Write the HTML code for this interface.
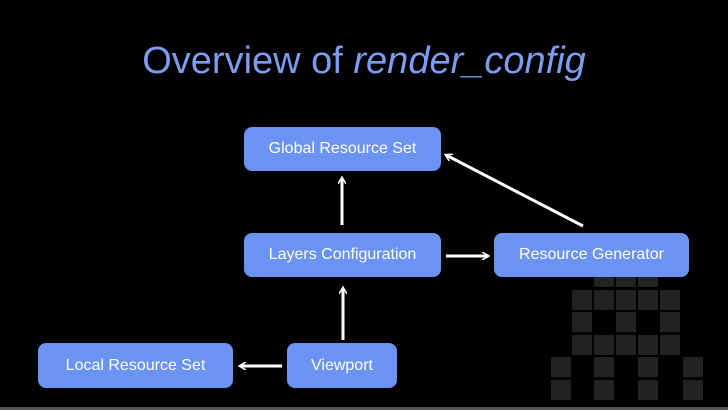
<!DOCTYPE html>
<html><head><style>
body{margin:0;width:728px;height:410px;background:#000;overflow:hidden;position:relative;font-family:"Liberation Sans",sans-serif}
.t{position:absolute;left:0;width:728px;top:40px;text-align:center;color:#7b9cf0;font-size:38px}
.b{position:absolute;background:#6a93f3;border-radius:8px;color:#fff;font-size:16px;display:flex;align-items:center;justify-content:center}
.s{position:absolute;width:20px;height:20px;background:#222}
</style></head><body>
<div class="t">Overview of <i>render_config</i></div>
<div id="sq"></div>
<script>
var cells=[[273,[594,616,638]],[290,[572,594,616,638,660]],[312,[572,616,660]],[335,[572,594,616,638,660]],[357,[551,594,638,683]],[380,[551,594,638,683]]];
var h='';cells.forEach(function(r){r[1].forEach(function(x){h+='<div class="s" style="left:'+x+'px;top:'+r[0]+'px;height:'+(r[0]==273?14:20)+'px"></div>'})});
document.getElementById('sq').innerHTML=h;
</script>
<div style="position:absolute;left:0;top:407px;width:728px;height:3px;background:#555"></div>
<div class="b" style="left:244px;top:127px;width:197px;height:44px">Global Resource Set</div>
<div class="b" style="left:244px;top:233px;width:197px;height:44px">Layers Configuration</div>
<div class="b" style="left:494px;top:233px;width:195px;height:44px">Resource Generator</div>
<div class="b" style="left:287px;top:343px;width:110px;height:45px">Viewport</div>
<div class="b" style="left:38px;top:343px;width:195px;height:45px">Local Resource Set</div>
<svg width="728" height="410" style="position:absolute;left:0;top:0">
<defs><marker id="a" markerWidth="8" markerHeight="8" refX="6" refY="4" orient="auto" markerUnits="userSpaceOnUse"><path d="M0,0 L7,4 L0,8" fill="none" stroke="#fff" stroke-width="1.5"/></marker></defs>
<g stroke="#fff" stroke-width="3" fill="none" marker-end="url(#a)">
<line x1="342" y1="225" x2="342" y2="178"/>
<line x1="446" y1="256" x2="488" y2="256"/>
<line x1="583" y1="226" x2="446" y2="155"/>
<line x1="343" y1="340" x2="343" y2="288"/>
<line x1="282" y1="366" x2="240" y2="366"/>
</g></svg>
</body></html>
